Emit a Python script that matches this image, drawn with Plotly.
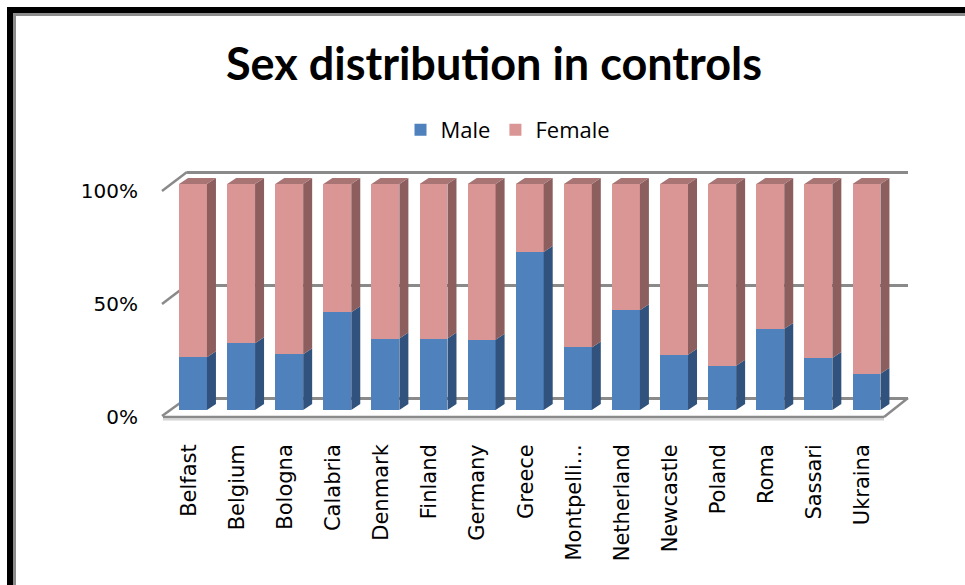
import plotly.graph_objects as go

# ---------------- data ----------------
categories = ["Belfast", "Belgium", "Bologna", "Calabria", "Denmark", "Finland",
              "Germany", "Greece", "Montpelli...", "Netherland", "Newcastle",
              "Poland", "Roma", "Sassari", "Ukraina"]
male_pct = [23.3, 29.5, 24.7, 43.3, 31.6, 31.6, 31.1, 69.9, 27.7, 44.1, 24.4, 19.6, 35.9, 23.0, 16.0]
female_pct = [76.7, 70.5, 75.3, 56.7, 68.4, 68.4, 68.9, 30.1, 72.3, 55.9, 75.6, 80.4, 64.1, 77.0, 84.0]
y_ticks = [0, 50, 100]
y_ticktext = ["0%", "50%", "100%"]

# ---------------- styling ----------------
W, H = 965, 585
L, R, T, B = 163, 57, 160, 168          # plot-area margins (px)
PW, PH = W - L - R, H - T - B
MALE = "#4F81BD"
FEMALE = "#DA9694"
MALE_SIDE = "#30527C"
FEMALE_SIDE = "#8C5E5E"
FEMALE_TOP = "#A87474"
GRID = "#8A8A8A"

BAR_W = 0.58
DX, DY = 0.187, 2.65                   # 3-D depth offsets (axis units)
PX_PER_PCT = 2.26

x_pos = list(range(len(categories)))


def px_x(px):
    return (px - L) / PW


def px_y(py):
    return (H - B - py) / PH


fig = go.Figure()

# invisible trace on back-wall subplot (carries the gridlines)
fig.add_trace(go.Scatter(x=[0], y=[0], xaxis="x", yaxis="y", mode="markers",
                         marker=dict(opacity=0), showlegend=False, hoverinfo="skip"))

# front faces
fig.add_trace(go.Bar(name="Male", x=x_pos, y=male_pct, xaxis="x2", yaxis="y2",
                     marker=dict(color=MALE, line=dict(width=0)), width=BAR_W))
fig.add_trace(go.Bar(name="Female", x=x_pos, y=female_pct, xaxis="x2", yaxis="y2",
                     marker=dict(color=FEMALE, line=dict(width=0)), width=BAR_W))

# side / top faces built from the data
ms_x, ms_y, fs_x, fs_y, tp_x, tp_y = [], [], [], [], [], []
for i, (m, f) in enumerate(zip(male_pct, female_pct)):
    r = i + BAR_W / 2
    l = i - BAR_W / 2
    tot = m + f
    ms_x += [r, r + DX, r + DX, r, r, None]
    ms_y += [0, DY, m + DY, m, 0, None]
    fs_x += [r, r + DX, r + DX, r, r, None]
    fs_y += [m, m + DY, tot + DY, tot, m, None]
    tp_x += [l, r, r + DX, l + DX, l, None]
    tp_y += [tot, tot, tot + DY, tot + DY, tot, None]

for xs, ys, col in [(ms_x, ms_y, MALE_SIDE), (fs_x, fs_y, FEMALE_SIDE), (tp_x, tp_y, FEMALE_TOP)]:
    fig.add_trace(go.Scatter(x=xs, y=ys, xaxis="x2", yaxis="y2", mode="lines",
                             fill="toself", fillcolor=col, line=dict(width=0, color=col),
                             showlegend=False, hoverinfo="skip"))

# ---------------- decorations (axes frame) ----------------
shapes = []
# left diagonals at each tick
for py_front, py_back in [(191, 172), (304, 285), (416, 398)]:
    shapes.append(dict(type="line", xref="paper", yref="paper", layer="below",
                       x0=px_x(162), y0=px_y(py_front), x1=px_x(187), y1=px_y(py_back),
                       line=dict(color=GRID, width=2.5)))
# floor front edge + shadow
shapes.append(dict(type="line", xref="paper", yref="paper", layer="below",
                   x0=px_x(163), y0=px_y(419.5), x1=px_x(884), y1=px_y(419.5),
                   line=dict(color="#D4D4D4", width=2)))
shapes.append(dict(type="line", xref="paper", yref="paper", layer="below",
                   x0=px_x(163), y0=px_y(417), x1=px_x(884), y1=px_y(417),
                   line=dict(color=GRID, width=2.5)))
shapes.append(dict(type="line", xref="paper", yref="paper", layer="below",
                   x0=px_x(884), y0=px_y(417), x1=px_x(908), y1=px_y(398),
                   line=dict(color=GRID, width=2.5)))
# outer frame (black + grey) on top and left
shapes += [
    dict(type="line", xref="paper", yref="paper", x0=px_x(7), y0=px_y(10), x1=px_x(W + 5), y1=px_y(10),
         line=dict(color="black", width=6)),
    dict(type="line", xref="paper", yref="paper", x0=px_x(10), y0=px_y(7), x1=px_x(10), y1=px_y(H + 5),
         line=dict(color="black", width=6)),
    dict(type="line", xref="paper", yref="paper", x0=px_x(13), y0=px_y(14.5), x1=px_x(W + 5), y1=px_y(14.5),
         line=dict(color="#8C8C8C", width=3)),
    dict(type="line", xref="paper", yref="paper", x0=px_x(14.5), y0=px_y(13), x1=px_x(14.5), y1=px_y(H + 5),
         line=dict(color="#8C8C8C", width=3)),
]

x2_range = [-30 / 48.1, 14 + 41.5 / 48.1]
y2_range = [-(417 - 410) / PX_PER_PCT, 100 + (184 - T) / PX_PER_PCT]
# back wall: 0% at 398px, 100% at 172px; pad range so edge gridlines are kept
y_range = [-3, 100 + (172 - T) / PX_PER_PCT]
y_dom = [px_y(398 + 3 * PX_PER_PCT), 1]

fig.update_layout(
    width=W, height=H,
    margin=dict(l=L, r=R, t=T, b=B, autoexpand=False),
    paper_bgcolor="white", plot_bgcolor="rgba(0,0,0,0)",
    barmode="stack", bargap=0,
    title=dict(text="<b>Sex distribution in controls</b>", x=494 / W, xref="container",
               y=1 - 64 / H, yref="container", xanchor="center", yanchor="middle",
               font=dict(family="Lato", size=45, color="black")),
    legend=dict(orientation="h", xref="container", yref="container",
                x=508 / W, y=1 - 130 / H, xanchor="center", yanchor="middle",
                font=dict(family="Open Sans", size=22, color="black"),
                itemwidth=30, traceorder="normal", itemclick=False),
    xaxis=dict(domain=[px_x(187), 1], range=[0, 1], visible=False, showgrid=False, zeroline=False),
    yaxis=dict(domain=y_dom, range=y_range, tickvals=y_ticks, showgrid=True,
               gridcolor=GRID, gridwidth=2.5, showticklabels=False, zeroline=False,
               showline=False, ticks=""),
    xaxis2=dict(domain=[0, 1], range=x2_range, anchor="y2", tickvals=x_pos, ticktext=categories,
                tickangle=-90, tickfont=dict(family="DejaVu Sans", size=21, color="black"),
                showgrid=False, zeroline=False, showline=False, ticks="",
                ticklabelstandoff=22, ticklabelshift=-4),
    yaxis2=dict(domain=[0, 1], range=y2_range, anchor="x2", tickvals=y_ticks, ticktext=y_ticktext,
                tickfont=dict(family="DejaVu Sans", size=20, color="black"),
                showgrid=False, zeroline=False, showline=False, ticks="",
                ticklabelstandoff=24, ticklabelshift=7),
    shapes=shapes,
    showlegend=True,
)

fig.write_html("out.html")
